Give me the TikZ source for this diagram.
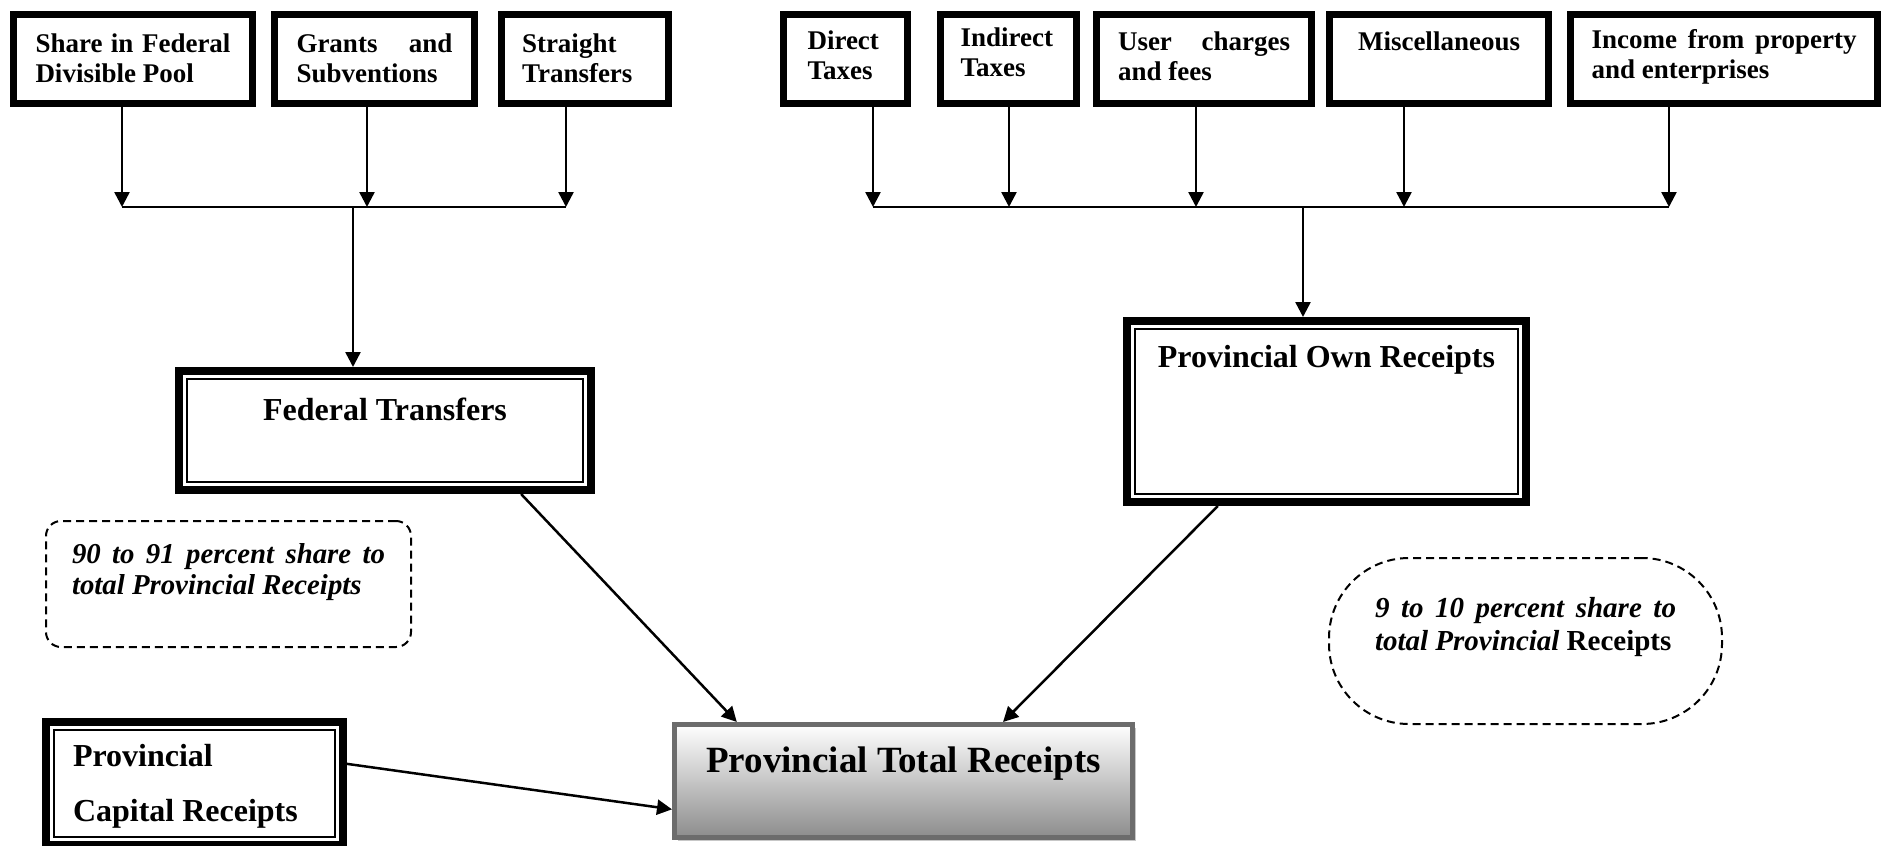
\documentclass[tikz,border=0pt]{standalone}
\usepackage{fontspec}
\setmainfont{Liberation Serif}
\usetikzlibrary{arrows.meta,calc,shadows}
\definecolor{ptgray}{RGB}{108,108,108}
\definecolor{ptshade}{RGB}{140,140,140}
\newcommand{\boxtext}[4]{\parbox[c][#2][t]{#1}{\vspace*{#3}#4}}

\begin{document}
\begin{tikzpicture}[x=0.5pt, y=-0.5pt,
    srcbox/.style={draw, line width=3.5pt, fill=white, inner sep=0pt,
      font=\fontsize{13.5}{15}\selectfont\bfseries},
    dblbox/.style={draw, line width=4pt, fill=white, inner sep=0pt,
      font=\fontsize{16}{19}\selectfont\bfseries},
    totbox/.style={draw=ptgray, line width=2.5pt, inner sep=0pt,
      top color=white, bottom color=ptshade,
      drop shadow={shadow xshift=1.5pt, shadow yshift=-1.5pt, fill=black!22, opacity=1},
      font=\fontsize{18.5}{22}\selectfont\bfseries},
    note/.style={draw, line width=1pt, dash pattern=on 4pt off 2.5pt, inner sep=0pt,
      font=\fontsize{14.4}{15.5}\selectfont\bfseries\itshape},
    arr/.style={-{Triangle[length=7.5pt,width=7.5pt]}, line width=1.25pt},
    bus/.style={line width=1.25pt}]
  \useasboundingbox (0,0) rectangle (1885,846);

  % federal sources
  \node[srcbox, minimum width=119.5pt] (tl1) at (133,59)
    {\boxtext{97.5pt}{44.5pt}{9.5pt}{Share in Federal\linebreak Divisible Pool}};
  \node[srcbox, minimum width=100pt] (tl2) at (374.5,59)
    {\boxtext{78pt}{44.5pt}{9.5pt}{Grants and\linebreak Subventions}};
  \node[srcbox, minimum width=83.5pt] (tl3) at (585,59)
    {\boxtext{63pt}{44.5pt}{9.5pt}{\raggedright Straight\\Transfers}};

  % own sources
  \node[srcbox, minimum width=62pt] (tr1) at (845.5,59)
    {\boxtext{38pt}{44.5pt}{8pt}{\raggedright Direct\\Taxes}};
  \node[srcbox, minimum width=68pt] (tr2) at (1008.5,59)
    {\boxtext{48pt}{44.5pt}{6.5pt}{\raggedright Indirect\\Taxes}};
  \node[srcbox, minimum width=107.5pt] (tr3) at (1204,59)
    {\boxtext{86pt}{44.5pt}{8.5pt}{User charges\linebreak and fees}};
  \node[srcbox, minimum width=109.5pt] (tr4) at (1439,59)
    {\boxtext{82pt}{44.5pt}{8.5pt}{\centering Miscellaneous}};
  \node[srcbox, minimum width=153.5pt] (tr5) at (1724,59)
    {\boxtext{132.5pt}{44.5pt}{7.5pt}{Income from property\linebreak and enterprises}};

  % main boxes
  \node[dblbox, minimum width=206pt, text height=24.5pt, text depth=35pt] (fed)
    at (385,430.5) {Federal Transfers};
  \node[dblbox, minimum width=199.5pt, text height=23pt, text depth=67.5pt] (own)
    at (1326.5,411.5) {Provincial Own Receipts};
  \node[dblbox] (cap) at (194.5,783.5)
    {\boxtext{148.5pt}{61.5pt}{11pt}{\raggedright\leftskip=13.5pt Provincial\\[8.5pt]Capital Receipts}};
  \foreach \n in {fed,own,cap}
    \draw[line width=1pt] ([shift={(6pt,-6pt)}]\n.north west) rectangle ([shift={(-6pt,6pt)}]\n.south east);
  \node[totbox, minimum width=229pt, text height=23.75pt, text depth=32.75pt] (tot)
    at (903.5,781) {Provincial Total Receipts};

  % shares
  \node[note, rounded corners=7.5pt, minimum width=182.5pt] (lnote) at (228.5,584)
    {\boxtext{156.5pt}{63pt}{11.5pt}{90 to 91 percent share to\linebreak total Provincial Receipts}};
  \node[note, rounded corners=40pt, minimum width=196.5pt,
    font=\fontsize{14.5}{16.5}\selectfont\bfseries\itshape] (rnote) at (1525.5,641)
    {\boxtext{150.5pt}{83pt}{19.5pt}{9 to 10 percent share to\linebreak total Provincial \upshape Receipts}};

  % left bus
  \coordinate (lb1) at (122,207);
  \coordinate (lb2) at (367,207);
  \coordinate (lb3) at (566,207);
  \coordinate (lbus) at (353,207);
  \draw[bus] (lb1) -- (lb3);
  \foreach \i in {1,2,3}
    \draw[arr] (tl\i.south -| lb\i) -- (lb\i);
  \draw[arr] (lbus) -- (fed.north -| lbus);

  % right bus
  \coordinate (rb1) at (873,207);
  \coordinate (rb2) at (1009,207);
  \coordinate (rb3) at (1196,207);
  \coordinate (rb4) at (1404,207);
  \coordinate (rb5) at (1669,207);
  \coordinate (rbus) at (1303,207);
  \draw[bus] (rb1) -- (rb5);
  \foreach \i in {1,...,5}
    \draw[arr] (tr\i.south -| rb\i) -- (rb\i);
  \draw[arr] (rbus) -- (own.north -| rbus);

  % into the total
  \draw[arr] ($(fed.south west)!0.824!(fed.south east)$) -- ($(tot.north west)!0.14!(tot.north east)$);
  \draw[arr] ($(own.south west)!0.233!(own.south east)$) -- ($(tot.north west)!0.715!(tot.north east)$);
  \draw[arr] ($(cap.north east)!0.35!(cap.south east)$) -- ($(tot.north west)!0.74!(tot.south west)$);
\end{tikzpicture}
\end{document}
